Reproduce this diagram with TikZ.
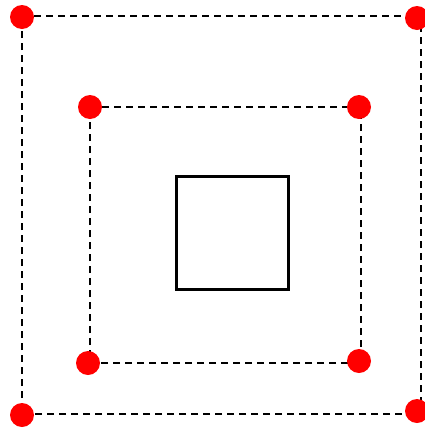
\documentclass[tikz,border=0pt]{standalone}
\begin{document}
\begin{tikzpicture}[x=1pt,y=-1pt,
  dashline/.style={draw=black,line width=1.5pt,dash pattern=on 7pt off 5pt},
  dot/.style={circle,fill=red,draw=none,minimum size=24pt,inner sep=0pt},
  centrebox/.style={draw=black,line width=3.3pt}]
\useasboundingbox (0,0) rectangle (424,429);
% outer rectangle corners
\coordinate (o1) at (22,16);
\coordinate (o2) at (421,16);
\coordinate (o3) at (421,414);
\coordinate (o4) at (22,414);
% inner rectangle corners
\coordinate (i1) at (90,107);
\coordinate (i2) at (361,107);
\coordinate (i3) at (361,363);
\coordinate (i4) at (90,363);
\draw[dashline] (o1) -- (o2) -- (o3) -- (o4) -- cycle;
\draw[dashline] (i1) -- (i2) -- (i3) -- (i4) -- cycle;
% centre square
\draw[centrebox] (176.5,176.5) rectangle (288.5,289.5);
% dots
\node[dot] (d1) at (22,17) {};
\node[dot] (d2) at (417,18) {};
\node[dot] (d3) at (417,411) {};
\node[dot] (d4) at (22,415) {};
\node[dot] (d5) at (90,107) {};
\node[dot] (d6) at (359,107) {};
\node[dot] (d7) at (359,361) {};
\node[dot] (d8) at (88,363) {};
\end{tikzpicture}
\end{document}
